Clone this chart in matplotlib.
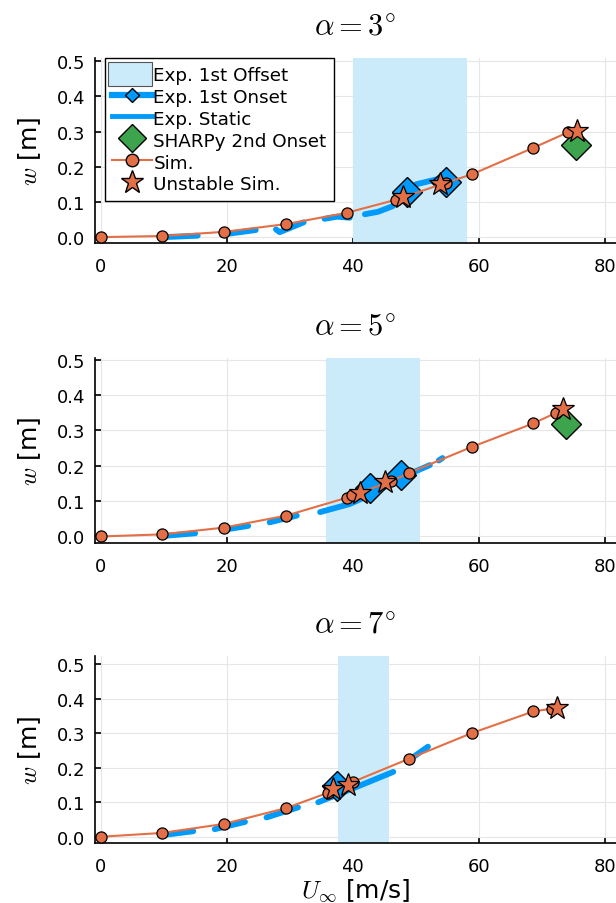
import numpy as np
import matplotlib
matplotlib.use('Agg')
import matplotlib.pyplot as plt
from matplotlib.lines import Line2D
from matplotlib.patches import Patch, Rectangle
from matplotlib.legend_handler import HandlerPatch

nan = np.nan

# angle of attack of each panel
alpha_deg = [3, 5, 7]

# experimental 1st offset band (flutter offset speeds)
offset_lo = [40.0, 35.8, 37.7]
offset_hi = [58.1, 50.7, 45.7]

# experimental static deflection (segments split by nan)
static_u_3 = [10.2, 15.4, nan, 19.2, 24.6, nan, 27.8, 28.4, 32.2, nan,
              35.5, 37.5, 39.5, nan, 41.9, 44.0, 46.3, 48.5, 50.0, 53.5]
static_w_3 = [0.000, 0.004, nan, 0.007, 0.020, nan, 0.022, 0.014, 0.042, nan,
              0.052, 0.058, 0.055, nan, 0.065, 0.072, 0.088, 0.125, 0.150, 0.165]
static_u_5 = [10.2, 15.0, nan, 19.2, 23.4, nan, 26.8, 31.1, nan,
              34.8, 39.5, 43.0, 47.0, 50.0, 52.2, nan, 53.6, 54.2]
static_w_5 = [0.002, 0.009, nan, 0.018, 0.030, nan, 0.040, 0.059, nan,
              0.069, 0.092, 0.120, 0.160, 0.185, 0.202, nan, 0.215, 0.222]
static_u_7 = [10.4, 14.7, nan, 18.1, 22.9, nan, 26.3, 31.3, nan,
              34.5, 40.0, 46.4, nan, 49.5, 51.9]
static_w_7 = [0.006, 0.016, nan, 0.022, 0.043, nan, 0.056, 0.085, nan,
              0.100, 0.140, 0.188, nan, 0.230, 0.261]

# experimental 1st onset
onset_u = [[48.5, 54.7], [42.7, 47.7], [37.4]]
onset_w = [[0.128, 0.156], [0.136, 0.174], [0.148]]

# SHARPy 2nd onset
sharpy_u = [[75.3], [73.7], []]
sharpy_w = [[0.262], [0.318], []]

# simulation
sim_u_3 = [0, 9.7, 19.6, 29.4, 39.0, 46.8, 54.8, 58.8, 68.5, 74.1]
sim_w_3 = [0, 0.003, 0.015, 0.037, 0.069, 0.106, 0.155, 0.178, 0.253, 0.298]
sim_u_5 = [0, 9.7, 19.5, 29.4, 39.1, 39.8, 46.1, 48.9, 58.8, 68.6, 72.2]
sim_w_5 = [0, 0.006, 0.025, 0.059, 0.110, 0.116, 0.156, 0.180, 0.253, 0.320, 0.350]
sim_u_7 = [0, 9.7, 19.5, 29.4, 36.0, 40.0, 48.9, 58.8, 68.6, 71.5]
sim_w_7 = [0, 0.011, 0.037, 0.083, 0.127, 0.159, 0.226, 0.300, 0.363, 0.371]

# unstable simulation points
unst_u = [[47.9, 53.8, 75.5], [41.1, 45.1, 73.3], [36.9, 39.2, 72.4]]
unst_w = [[0.114, 0.151, 0.303], [0.123, 0.153, 0.361], [0.139, 0.151, 0.373]]

static_u = [static_u_3, static_u_5, static_u_7]
static_w = [static_w_3, static_w_5, static_w_7]
sim_u = [sim_u_3, sim_u_5, sim_u_7]
sim_w = [sim_w_3, sim_w_5, sim_w_7]

ylims = [(-0.017, 0.509), (-0.019, 0.505), (-0.018, 0.523)]

BLUE = '#009AFA'
SHADE = '#CCEBFA'
ORANGE = '#E26F46'
GREEN = '#3DA44D'

plt.rcParams['mathtext.fontset'] = 'cm'
plt.rcParams['font.family'] = 'DejaVu Sans'


def tall_box(legend, orig_handle, xdescent, ydescent, width, height, fontsize):
    # taller legend box for the shaded band entry
    return Rectangle((-xdescent - 3, -ydescent - 2.5), width + 3, height + 5)


fig = plt.figure(figsize=(6.16, 9.04), dpi=100)

# axes boxes in figure fraction (left, bottom, width, height)
boxes = [(0.154, 0.730, 0.846, 0.2047),
         (0.154, 0.398, 0.846, 0.2049),
         (0.154, 0.0664, 0.846, 0.2066)]

for i, a in enumerate(alpha_deg):
    ax = fig.add_axes(boxes[i])

    ax.axvspan(offset_lo[i], offset_hi[i], color=SHADE, lw=0, zorder=1)
    ax.plot(static_u[i], static_w[i], color=BLUE, lw=4.2,
            solid_capstyle='round', zorder=2)
    ax.plot(onset_u[i], onset_w[i], ls='none', marker='D', ms=15,
            mfc=BLUE, mec='black', mew=1, zorder=3)
    if sharpy_u[i]:
        ax.plot(sharpy_u[i], sharpy_w[i], ls='none', marker='D', ms=15,
                mfc=GREEN, mec='black', mew=1, zorder=3)
    ax.plot(sim_u[i], sim_w[i], color=ORANGE, lw=1.5, marker='o', ms=8,
            mfc=ORANGE, mec='black', mew=0.9, zorder=4)
    ax.plot(unst_u[i], unst_w[i], ls='none', marker='*', ms=17,
            mfc=ORANGE, mec='black', mew=0.9, zorder=5)

    ax.set_xlim(-0.9, 81.7)
    ax.set_ylim(*ylims[i])
    ax.set_xticks([0, 20, 40, 60, 80])
    ax.set_yticks([0.0, 0.1, 0.2, 0.3, 0.4, 0.5])
    ax.set_yticklabels(['0.0', '0.1', '0.2', '0.3', '0.4', '0.5'])
    ax.grid(True, color='#e6e6e6', lw=0.8, zorder=0)
    ax.set_axisbelow(True)
    ax.tick_params(direction='in', length=4, width=1.2, labelsize=13,
                   colors='black')
    ax.tick_params(axis='x', pad=10)
    ax.tick_params(axis='y', pad=7)
    for s in ['top', 'right']:
        ax.spines[s].set_visible(False)
    for s in ['left', 'bottom']:
        ax.spines[s].set_linewidth(1.2)

    ax.set_title(r'$\alpha = %d^{\circ}$' % a, fontsize=22, pad=17)
    ax.set_ylabel(r'$w$ [m]', fontsize=18, labelpad=10)
    if i == 2:
        ax.set_xlabel(r'$U_\infty$ [m/s]', fontsize=18, labelpad=1)

    if i == 0:
        handles = [
            Patch(facecolor=SHADE, edgecolor='#555555', lw=0.8),
            Line2D([], [], color=BLUE, lw=4.5, marker='D', ms=7,
                   mfc=BLUE, mec='black'),
            Line2D([], [], color=BLUE, lw=3.5),
            Line2D([], [], ls='none', marker='D', ms=14, mfc=GREEN, mec='black'),
            Line2D([], [], color=ORANGE, lw=1.5, marker='o', ms=9,
                   mfc=ORANGE, mec='black'),
            Line2D([], [], ls='none', marker='*', ms=17, mfc=ORANGE, mec='black'),
        ]
        labels = ['Exp. 1st Offset', 'Exp. 1st Onset', 'Exp. Static',
                  'SHARPy 2nd Onset', 'Sim.', 'Unstable Sim.']
        leg = ax.legend(handles, labels, loc='upper left', fontsize=13.2,
                        frameon=True, fancybox=False, framealpha=1,
                        edgecolor='black', borderpad=0.4, labelspacing=0.15,
                        handlelength=2.15, handleheight=1.1,
                        handletextpad=0.1, borderaxespad=0.0,
                        bbox_to_anchor=(0.019, 1.0),
                        handler_map={Patch: HandlerPatch(patch_func=tall_box)})
        leg.get_frame().set_linewidth(1.0)
        leg.set_zorder(10)

fig.savefig('out.png', dpi=100)
